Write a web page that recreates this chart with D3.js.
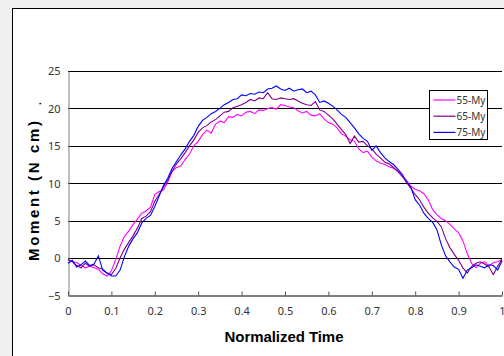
<!DOCTYPE html>
<html>
  <head>
    <meta charset="utf-8">
    <title>Moment vs normalized time</title>
    <script src="https://cdn.jsdelivr.net/npm/d3@7"></script>
    <style>
      html, body { margin: 0; padding: 0; background: #f0f0f0; overflow: hidden; }
      svg { display: block; }
      .tick text { font-family: "Noto Sans", sans-serif; font-size: 11px; fill: #333; }
    </style>
  </head>
  <body>
    <svg id="chart" width="504" height="356"></svg>

    <script>
      times = d3.range(0, 101).map(function(i) { return i / 100; });

      seriesNames = ["55-My", "65-My", "75-My"];
      seriesColours = ["#ff00ff", "#800080", "#0000ff"];

      my55 = [-0.3, -0.5, -0.6, -1.0, -1.3, -1.1, -1.3, -1.5, -2.1, -2.4,
        -1.7, -0.2, 1.6, 2.9, 3.6, 4.5, 5.2, 6.0, 6.3, 6.8,
        8.5, 8.9, 9.1, 10.2, 11.6, 12.1, 12.3, 13.2, 13.9, 15.0,
        15.6, 16.5, 17.1, 16.7, 17.9, 18.3, 18.1, 18.9, 18.8, 19.2,
        19.0, 19.5, 19.6, 19.3, 19.8, 19.7, 20.0, 20.1, 19.9, 20.5,
        20.4, 20.2, 20.1, 19.7, 19.4, 19.6, 19.1, 19.0, 19.3, 18.6,
        18.1, 17.9, 17.4, 16.6, 16.3, 15.8, 15.6, 14.6, 14.1, 14.3,
        13.5, 13.0, 12.7, 12.5, 12.2, 12.0, 11.6, 10.9, 10.4, 9.6,
        9.2, 9.0, 8.6, 7.8, 6.5, 5.8, 5.3, 5.0, 4.5, 3.9,
        3.4, 2.3, 0.6, -0.7, -1.3, -0.7, -0.5, -1.1, -0.6, -0.5,
        -0.2];

      my65 = [-0.2, -0.5, -1.0, -1.3, -0.7, -1.1, -0.9, -1.3, -1.5, -2.0,
        -2.2, -1.4, 0.0, 1.2, 2.1, 3.0, 4.0, 5.3, 5.6, 6.2,
        7.6, 8.5, 9.5, 10.4, 11.6, 12.6, 13.3, 14.1, 15.0, 15.8,
        16.8, 17.4, 17.7, 18.2, 18.5, 19.0, 19.5, 19.6, 20.1, 20.3,
        20.5, 20.8, 21.2, 21.0, 21.4, 21.3, 22.1, 21.3, 21.2, 21.4,
        21.3, 21.2, 21.3, 21.0, 20.7, 20.5, 20.4, 20.9, 19.8, 19.6,
        19.1, 18.6, 17.9, 17.2, 16.5, 15.3, 16.3, 15.5, 15.6, 15.0,
        14.6, 13.9, 13.4, 12.8, 12.6, 12.1, 11.6, 11.0, 10.1, 9.3,
        8.5, 7.8, 6.8, 6.0, 5.4, 4.9, 4.2, 2.6, 1.4, 0.5,
        -0.3, -1.3, -2.0, -1.1, -0.7, -0.5, -0.8, -1.2, -2.2, -1.1,
        -0.2];

      my75 = [-0.7, -0.3, -1.2, -0.9, -0.4, -1.0, -0.8, 0.3, -1.6, -2.0,
        -2.4, -2.4, -1.6, 0.2, 1.6, 2.6, 3.4, 4.7, 5.3, 5.7,
        6.9, 8.3, 9.7, 10.7, 12.0, 12.9, 13.8, 14.6, 15.6, 16.4,
        17.6, 18.4, 18.8, 19.3, 19.6, 20.0, 20.5, 20.8, 21.2, 21.3,
        21.8, 21.7, 22.0, 21.9, 22.2, 22.1, 22.6, 22.7, 23.0, 22.6,
        22.4, 22.7, 22.3, 22.5, 22.6, 22.1, 22.3, 21.8, 20.8, 21.0,
        20.7, 20.3, 19.8, 19.2, 18.8, 18.1, 17.4, 16.6, 16.0, 15.6,
        14.4, 15.0, 14.1, 13.4, 12.9, 12.5, 11.9, 11.2, 10.2, 9.5,
        7.8, 7.1, 6.0, 5.3, 4.8, 3.8, 1.8, 0.3, -0.5, -1.2,
        -1.5, -2.7, -1.6, -1.3, -0.9, -1.1, -1.3, -0.9, -1.0, -1.6,
        -0.4];

      xTicks = d3.range(0, 11).map(function(i) { return i / 10; });
      yTicks = [-5, 0, 5, 10, 15, 20, 25];

      series = [my55, my65, my75].map(function(values, i) {
        return {
          name: seriesNames[i],
          colour: seriesColours[i],
          points: values.map(function(v, j) { return [times[j], v]; })
        };
      });

      // elements
      svg = d3.select("#chart");

      // chart frame
      svg.append("rect")
        .attr("x", 12.5)
        .attr("y", 8.5)
        .attr("width", 600)
        .attr("height", 400)
        .style("fill", "#fff")
        .style("stroke", "#000");

      x = d3.scaleLinear()
        .domain([0, 1])
        .range([68, 502]);

      y = d3.scaleLinear()
        .domain([-5, 25])
        .range([295.5, 71]);

      // gridlines
      svg.append("g")
        .selectAll("line")
          .data(yTicks.filter(function(d) { return d > -5; }))
        .enter().append("line")
          .attr("x1", x(0))
          .attr("x2", x(1))
          .attr("y1", function(d) { return Math.round(y(d)) + .5; })
          .attr("y2", function(d) { return Math.round(y(d)) + .5; })
          .style("stroke", "#000")
          .style("stroke-width", 1);

      // y axis
      yAxis = svg.append("g")
        .attr("transform", "translate(" + (x(0) + .5) + ",0)")
        .call(d3.axisLeft(y).tickValues(yTicks).tickSize(0).tickPadding(8));
      yAxis.select(".domain").style("stroke", "#808080");
      yAxis.selectAll(".tick text").attr("dy", "0.35em");

      // x axis
      xAxis = svg.append("g")
        .attr("transform", "translate(0," + y(-5) + ")")
        .call(d3.axisBottom(x).tickValues(xTicks).tickSize(0).tickPadding(12)
          .tickFormat(function(d) { return d === 0 || d === 1 ? d3.format("d")(d) : d3.format(".1f")(d); }));
      xAxis.select(".domain")
        .style("stroke", "#555")
        .style("stroke-width", 1.5);
      xAxis.selectAll(".tick")
        .append("line")
          .attr("y1", 0)
          .attr("y2", -4)
          .style("stroke", "#555");

      // series
      line = d3.line()
        .x(function(d) { return x(d[0]); })
        .y(function(d) { return y(d[1]); });

      svg.append("g")
        .selectAll("path")
          .data(series)
        .enter().append("path")
          .attr("d", function(d) { return line(d.points); })
          .style("fill", "none")
          .style("stroke", function(d) { return d.colour; })
          .style("stroke-width", 1.1);

      // axis titles
      svg.append("text")
        .attr("x", 284)
        .attr("y", 342)
        .attr("text-anchor", "middle")
        .attr("textLength", 119)
        .style("font-family", "'Liberation Sans', sans-serif")
        .style("font-weight", "bold")
        .style("font-size", "15px")
        .text("Normalized Time");

      svg.append("text")
        .attr("transform", "translate(39,191) rotate(-90)")
        .attr("text-anchor", "middle")
        .attr("textLength", 140)
        .style("font-family", "'Liberation Sans', sans-serif")
        .style("font-weight", "bold")
        .style("font-size", "15px")
        .text("Moment  (N cm)");

      svg.append("text")
        .attr("transform", "translate(41,105) rotate(-90)")
        .style("font-family", "'Liberation Sans', sans-serif")
        .style("font-weight", "bold")
        .style("font-size", "10px")
        .text(".");

      // legend
      legend = svg.append("g")
        .attr("transform", "translate(429.5,90.5)");

      legend.append("rect")
        .attr("width", 58)
        .attr("height", 49)
        .style("fill", "#fff")
        .style("stroke", "#000");

      entries = legend.selectAll(".entry")
          .data(series)
        .enter().append("g")
          .attr("transform", function(d, i) { return "translate(0," + (9.5 + i * 16.2) + ")"; });

      entries.append("line")
        .attr("x1", 4)
        .attr("x2", 26)
        .style("stroke", function(d) { return d.colour; })
        .style("stroke-width", 1.2);

      entries.append("text")
        .attr("x", 27)
        .attr("dy", "0.35em")
        .style("font-family", "'Noto Sans', sans-serif")
        .style("font-size", "10px")
        .style("fill", "#333")
        .text(function(d) { return d.name; });
    </script>
  </body>
</html>
